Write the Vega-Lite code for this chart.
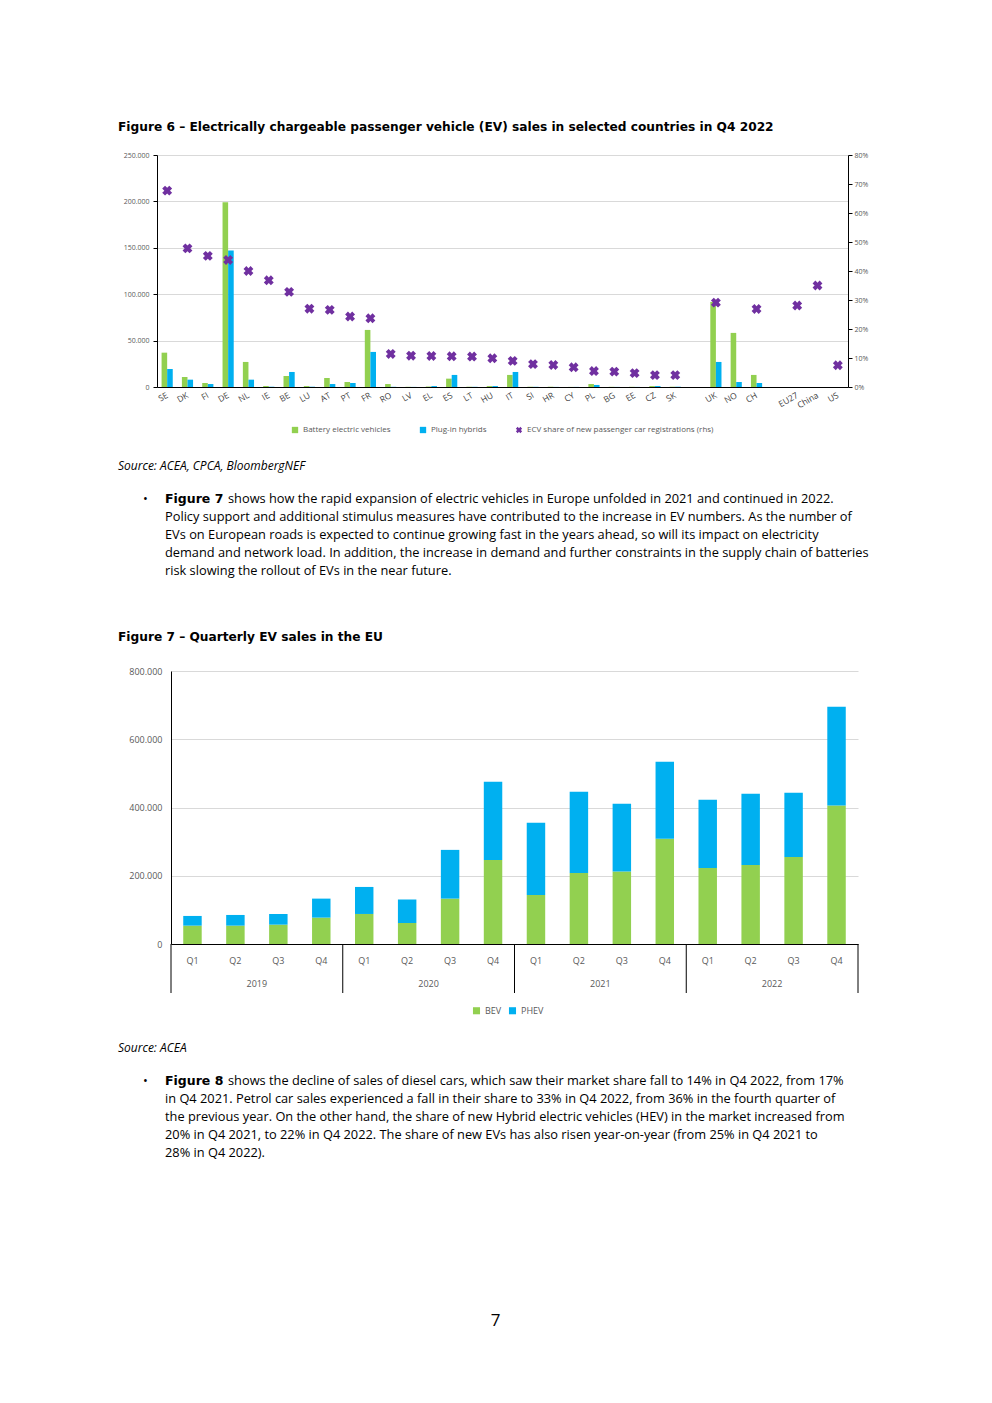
{
  "$schema": "https://vega.github.io/schema/vega-lite/v6.json",
  "background": "white",
  "padding": {"left": 118, "top": 120, "right": 0, "bottom": 0},
  "spacing": 26,
  "columns": 1,
  "resolve": {"scale": {"color": "independent"}, "legend": {"color": "independent"}},
  "config": {
    "locale": {"number": {"decimal": ",", "thousands": ".", "grouping": [3], "currency": ["", " €"]}},
    "view": {"stroke": null},
    "font": "Open Sans",
    "title": {"font": "DejaVu Sans", "fontSize": 12.2, "fontWeight": "bold", "anchor": "start", "color": "#000000"},
    "axis": {"labelFont": "Open Sans", "labelColor": "#595959", "titleFont": "Open Sans"},
    "legend": {"labelFont": "Open Sans", "labelColor": "#595959", "labelLimit": 400, "layout": {"bottom": {"anchor": "middle"}}},
    "text": {"font": "Open Sans", "color": "#000000"}
  },
  "datasets": {
    "fig6bars": [
      {"country": "SE", "type": "Battery electric vehicles", "value": 37000},
      {"country": "SE", "type": "Plug-in hybrids", "value": 19500},
      {"country": "DK", "type": "Battery electric vehicles", "value": 10800},
      {"country": "DK", "type": "Plug-in hybrids", "value": 7900},
      {"country": "FI", "type": "Battery electric vehicles", "value": 4300},
      {"country": "FI", "type": "Plug-in hybrids", "value": 3200},
      {"country": "DE", "type": "Battery electric vehicles", "value": 199000},
      {"country": "DE", "type": "Plug-in hybrids", "value": 147000},
      {"country": "NL", "type": "Battery electric vehicles", "value": 27000},
      {"country": "NL", "type": "Plug-in hybrids", "value": 7900},
      {"country": "IE", "type": "Battery electric vehicles", "value": 1100},
      {"country": "IE", "type": "Plug-in hybrids", "value": 300},
      {"country": "BE", "type": "Battery electric vehicles", "value": 11900},
      {"country": "BE", "type": "Plug-in hybrids", "value": 16200},
      {"country": "LU", "type": "Battery electric vehicles", "value": 1000},
      {"country": "LU", "type": "Plug-in hybrids", "value": 300},
      {"country": "AT", "type": "Battery electric vehicles", "value": 9700},
      {"country": "AT", "type": "Plug-in hybrids", "value": 3200},
      {"country": "PT", "type": "Battery electric vehicles", "value": 5400},
      {"country": "PT", "type": "Plug-in hybrids", "value": 4300},
      {"country": "FR", "type": "Battery electric vehicles", "value": 61500},
      {"country": "FR", "type": "Plug-in hybrids", "value": 37800},
      {"country": "RO", "type": "Battery electric vehicles", "value": 3200},
      {"country": "RO", "type": "Plug-in hybrids", "value": 200},
      {"country": "LV", "type": "Battery electric vehicles", "value": 200},
      {"country": "LV", "type": "Plug-in hybrids", "value": 100},
      {"country": "EL", "type": "Battery electric vehicles", "value": 500},
      {"country": "EL", "type": "Plug-in hybrids", "value": 1000},
      {"country": "ES", "type": "Battery electric vehicles", "value": 9000},
      {"country": "ES", "type": "Plug-in hybrids", "value": 13000},
      {"country": "LT", "type": "Battery electric vehicles", "value": 300},
      {"country": "LT", "type": "Plug-in hybrids", "value": 200},
      {"country": "HU", "type": "Battery electric vehicles", "value": 1000},
      {"country": "HU", "type": "Plug-in hybrids", "value": 1000},
      {"country": "IT", "type": "Battery electric vehicles", "value": 13000},
      {"country": "IT", "type": "Plug-in hybrids", "value": 16200},
      {"country": "SI", "type": "Battery electric vehicles", "value": 300},
      {"country": "SI", "type": "Plug-in hybrids", "value": 200},
      {"country": "HR", "type": "Battery electric vehicles", "value": 300},
      {"country": "HR", "type": "Plug-in hybrids", "value": 100},
      {"country": "CY", "type": "Battery electric vehicles", "value": 100},
      {"country": "CY", "type": "Plug-in hybrids", "value": 100},
      {"country": "PL", "type": "Battery electric vehicles", "value": 3200},
      {"country": "PL", "type": "Plug-in hybrids", "value": 2200},
      {"country": "BG", "type": "Battery electric vehicles", "value": 200},
      {"country": "BG", "type": "Plug-in hybrids", "value": 100},
      {"country": "EE", "type": "Battery electric vehicles", "value": 200},
      {"country": "EE", "type": "Plug-in hybrids", "value": 100},
      {"country": "CZ", "type": "Battery electric vehicles", "value": 1000},
      {"country": "CZ", "type": "Plug-in hybrids", "value": 1000},
      {"country": "SK", "type": "Battery electric vehicles", "value": 300},
      {"country": "SK", "type": "Plug-in hybrids", "value": 300},
      {"country": "UK", "type": "Battery electric vehicles", "value": 91700},
      {"country": "UK", "type": "Plug-in hybrids", "value": 27000},
      {"country": "NO", "type": "Battery electric vehicles", "value": 58300},
      {"country": "NO", "type": "Plug-in hybrids", "value": 5400},
      {"country": "CH", "type": "Battery electric vehicles", "value": 13000},
      {"country": "CH", "type": "Plug-in hybrids", "value": 4300}
    ],
    "fig6share": [
      {"country": "SE", "share": 0.677},
      {"country": "DK", "share": 0.478},
      {"country": "FI", "share": 0.452},
      {"country": "DE", "share": 0.438},
      {"country": "NL", "share": 0.400},
      {"country": "IE", "share": 0.368},
      {"country": "BE", "share": 0.328},
      {"country": "LU", "share": 0.270},
      {"country": "AT", "share": 0.266},
      {"country": "PT", "share": 0.243},
      {"country": "FR", "share": 0.237},
      {"country": "RO", "share": 0.114},
      {"country": "LV", "share": 0.108},
      {"country": "EL", "share": 0.107},
      {"country": "ES", "share": 0.106},
      {"country": "LT", "share": 0.105},
      {"country": "HU", "share": 0.099},
      {"country": "IT", "share": 0.090},
      {"country": "SI", "share": 0.079},
      {"country": "HR", "share": 0.076},
      {"country": "CY", "share": 0.068},
      {"country": "PL", "share": 0.055},
      {"country": "BG", "share": 0.053},
      {"country": "EE", "share": 0.048},
      {"country": "CZ", "share": 0.041},
      {"country": "SK", "share": 0.041},
      {"country": "UK", "share": 0.291},
      {"country": "CH", "share": 0.269},
      {"country": "EU27", "share": 0.281},
      {"country": "China", "share": 0.350},
      {"country": "US", "share": 0.075}
    ],
    "fig7": [
      {"period": "2019 Q1", "year": "2019", "quarter": "Q1", "type": "BEV", "value": 53800},
      {"period": "2019 Q1", "year": "2019", "quarter": "Q1", "type": "PHEV", "value": 28400},
      {"period": "2019 Q2", "year": "2019", "quarter": "Q2", "type": "BEV", "value": 53800},
      {"period": "2019 Q2", "year": "2019", "quarter": "Q2", "type": "PHEV", "value": 31300},
      {"period": "2019 Q3", "year": "2019", "quarter": "Q3", "type": "BEV", "value": 56700},
      {"period": "2019 Q3", "year": "2019", "quarter": "Q3", "type": "PHEV", "value": 31300},
      {"period": "2019 Q4", "year": "2019", "quarter": "Q4", "type": "BEV", "value": 77300},
      {"period": "2019 Q4", "year": "2019", "quarter": "Q4", "type": "PHEV", "value": 55700},
      {"period": "2020 Q1", "year": "2020", "quarter": "Q1", "type": "BEV", "value": 88000},
      {"period": "2020 Q1", "year": "2020", "quarter": "Q1", "type": "PHEV", "value": 79200},
      {"period": "2020 Q2", "year": "2020", "quarter": "Q2", "type": "BEV", "value": 61600},
      {"period": "2020 Q2", "year": "2020", "quarter": "Q2", "type": "PHEV", "value": 68500},
      {"period": "2020 Q3", "year": "2020", "quarter": "Q3", "type": "BEV", "value": 133000},
      {"period": "2020 Q3", "year": "2020", "quarter": "Q3", "type": "PHEV", "value": 142800},
      {"period": "2020 Q4", "year": "2020", "quarter": "Q4", "type": "BEV", "value": 246500},
      {"period": "2020 Q4", "year": "2020", "quarter": "Q4", "type": "PHEV", "value": 228800},
      {"period": "2021 Q1", "year": "2021", "quarter": "Q1", "type": "BEV", "value": 143800},
      {"period": "2021 Q1", "year": "2021", "quarter": "Q1", "type": "PHEV", "value": 211200},
      {"period": "2021 Q2", "year": "2021", "quarter": "Q2", "type": "BEV", "value": 208300},
      {"period": "2021 Q2", "year": "2021", "quarter": "Q2", "type": "PHEV", "value": 237700},
      {"period": "2021 Q3", "year": "2021", "quarter": "Q3", "type": "BEV", "value": 212200},
      {"period": "2021 Q3", "year": "2021", "quarter": "Q3", "type": "PHEV", "value": 198600},
      {"period": "2021 Q4", "year": "2021", "quarter": "Q4", "type": "BEV", "value": 308100},
      {"period": "2021 Q4", "year": "2021", "quarter": "Q4", "type": "PHEV", "value": 225900},
      {"period": "2022 Q1", "year": "2022", "quarter": "Q1", "type": "BEV", "value": 223000},
      {"period": "2022 Q1", "year": "2022", "quarter": "Q1", "type": "PHEV", "value": 199500},
      {"period": "2022 Q2", "year": "2022", "quarter": "Q2", "type": "BEV", "value": 231800},
      {"period": "2022 Q2", "year": "2022", "quarter": "Q2", "type": "PHEV", "value": 208300},
      {"period": "2022 Q3", "year": "2022", "quarter": "Q3", "type": "BEV", "value": 255300},
      {"period": "2022 Q3", "year": "2022", "quarter": "Q3", "type": "PHEV", "value": 187700},
      {"period": "2022 Q4", "year": "2022", "quarter": "Q4", "type": "BEV", "value": 405900},
      {"period": "2022 Q4", "year": "2022", "quarter": "Q4", "type": "PHEV", "value": 289500}
    ],
    "text1": [
      {"line": 1, "kind": "bullet", "text": "•"},
      {"line": 1, "kind": "lead", "text": "Figure 7"},
      {"line": 1, "kind": "first", "text": "shows how the rapid expansion of electric vehicles in Europe unfolded in 2021 and continued in 2022."},
      {"line": 2, "kind": "body", "text": "Policy support and additional stimulus measures have contributed to the increase in EV numbers. As the number of"},
      {"line": 3, "kind": "body", "text": "EVs on European roads is expected to continue growing fast in the years ahead, so will its impact on electricity"},
      {"line": 4, "kind": "body", "text": "demand and network load. In addition, the increase in demand and further constraints in the supply chain of batteries"},
      {"line": 5, "kind": "body", "text": "risk slowing the rollout of EVs in the near future."}
    ],
    "text2": [
      {"line": 1, "kind": "bullet", "text": "•"},
      {"line": 1, "kind": "lead", "text": "Figure 8"},
      {"line": 1, "kind": "first", "text": "shows the decline of sales of diesel cars, which saw their market share fall to 14% in Q4 2022, from 17%"},
      {"line": 2, "kind": "body", "text": "in Q4 2021. Petrol car sales experienced a fall in their share to 33% in Q4 2022, from 36% in the fourth quarter of"},
      {"line": 3, "kind": "body", "text": "the previous year. On the other hand, the share of new Hybrid electric vehicles (HEV) in the market increased from"},
      {"line": 4, "kind": "body", "text": "20% in Q4 2021, to 22% in Q4 2022. The share of new EVs has also risen year-on-year (from 25% in Q4 2021 to"},
      {"line": 5, "kind": "body", "text": "28% in Q4 2022)."}
    ]
  },
  "concat": [
    {
      "title": {"text": "Figure 6 – Electrically chargeable passenger vehicle (EV) sales in selected countries in Q4 2022", "offset": 18},
      "width": 691,
      "height": 232,
      "layer": [
        {
          "data": {"name": "fig6bars"},
          "mark": {"type": "bar"},
          "encoding": {
            "x": {
              "field": "country", "type": "nominal",
              "scale": {"domain": ["SE","DK","FI","DE","NL","IE","BE","LU","AT","PT","FR","RO","LV","EL","ES","LT","HU","IT","SI","HR","CY","PL","BG","EE","CZ","SK"," ","UK","NO","CH","  ","EU27","China","US"], "paddingInner": 0.45, "paddingOuter": 0.225},
              "axis": {"title": null, "labelAngle": -30, "labelAlign": "right", "labelBaseline": "middle", "labelFontSize": 8.5, "labelColor": "#404040", "ticks": false, "domainColor": "#000000", "labelPadding": 7}
            },
            "xOffset": {"field": "type", "type": "nominal", "scale": {"domain": ["Battery electric vehicles", "Plug-in hybrids"]}},
            "y": {
              "field": "value", "type": "quantitative",
              "scale": {"domain": [0, 250000]},
              "axis": {"title": null, "values": [0, 50000, 100000, 150000, 200000, 250000], "format": ",d", "labelFontSize": 7, "grid": true, "gridColor": "#D9D9D9", "domainColor": "#000000", "ticks": true, "tickColor": "#000000", "tickSize": 4, "labelPadding": 4, "minExtent": 39, "maxExtent": 39}
            },
            "color": {
              "field": "type", "type": "nominal",
              "scale": {"domain": ["Battery electric vehicles", "Plug-in hybrids", "ECV share of new passenger car registrations (rhs)"], "range": ["#92D050", "#00B0F0", "#7030A0"]},
              "legend": {
                "title": null, "orient": "bottom", "direction": "horizontal", "labelFontSize": 8, "symbolType": "square", "symbolSize": 40, "columnPadding": 28, "offset": 16,
                "encode": {"symbols": {"update": {"shape": {"signal": "datum.value === 'ECV share of new passenger car registrations (rhs)' ? 'cross' : 'square'"}, "angle": {"signal": "datum.value === 'ECV share of new passenger car registrations (rhs)' ? 45 : 0"}}}}
              }
            }
          }
        },
        {
          "data": {"name": "fig6share"},
          "mark": {"type": "point", "shape": "cross", "angle": 45, "filled": true, "size": 100, "opacity": 1},
          "encoding": {
            "x": {"field": "country", "type": "nominal"},
            "y": {
              "field": "share", "type": "quantitative",
              "scale": {"domain": [0, 0.8]},
              "axis": {"orient": "right", "title": null, "format": ".0%", "values": [0, 0.1, 0.2, 0.3, 0.4, 0.5, 0.6, 0.7, 0.8], "grid": false, "domainColor": "#000000", "tickColor": "#000000", "tickSize": 4, "labelFontSize": 7, "labelPadding": 2}
            },
            "color": {"datum": "ECV share of new passenger car registrations (rhs)"}
          }
        }
      ],
      "resolve": {"scale": {"y": "independent"}}
    },
    {
      "title": {"text": "Source: ACEA, CPCA, BloombergNEF", "font": "Open Sans", "fontStyle": "italic", "fontWeight": "normal", "fontSize": 12, "offset": 8, "frame": "group", "dx": -39},
      "width": 755,
      "height": 123,
      "data": {"name": "text1"},
      "encoding": {"y": {"field": "line", "type": "quantitative", "scale": {"domain": [0, 6.83], "reverse": true}, "axis": null}},
      "layer": [
        {"transform": [{"filter": "datum.kind === 'bullet'"}], "mark": {"type": "text", "align": "left", "baseline": "middle", "fontSize": 12.8, "x": -14}, "encoding": {"text": {"field": "text"}}},
        {"transform": [{"filter": "datum.kind === 'lead'"}], "mark": {"type": "text", "align": "left", "baseline": "middle", "fontSize": 12.5, "font": "DejaVu Sans", "fontWeight": "bold", "x": 8}, "encoding": {"text": {"field": "text"}}},
        {"transform": [{"filter": "datum.kind === 'first'"}], "mark": {"type": "text", "align": "left", "baseline": "middle", "fontSize": 12.8, "x": 71}, "encoding": {"text": {"field": "text"}}},
        {"transform": [{"filter": "datum.kind === 'body'"}], "mark": {"type": "text", "align": "left", "baseline": "middle", "fontSize": 12.8, "x": 8}, "encoding": {"text": {"field": "text"}}}
      ]
    },
    {
      "title": {"text": "Figure 7 – Quarterly EV sales in the EU", "offset": 24},
      "width": 701,
      "height": 273,
      "data": {"name": "fig7"},
      "layer": [
        {
          "mark": {"type": "bar", "width": {"band": 0.43}},
          "encoding": {
            "x": {
              "field": "period", "type": "nominal",
              "scale": {"paddingInner": 0, "paddingOuter": 0, "range": [14, 701]},
              "axis": {"title": null, "labelExpr": "substring(datum.value, 5)", "labelAngle": 0, "labelFontSize": 9, "domainColor": "#000000", "ticks": false, "labelPadding": 12}
            },
            "y": {
              "field": "value", "type": "quantitative", "stack": "zero",
              "scale": {"domain": [0, 800000]},
              "axis": {"title": null, "offset": -14, "values": [0, 100000, 200000, 300000, 400000, 500000, 600000, 700000, 800000], "format": ",d", "labelFontSize": 9, "labelOverlap": false, "grid": true, "gridColor": "#D9D9D9", "domainColor": "#000000", "ticks": false, "labelPadding": 9, "minExtent": 53, "maxExtent": 53}
            },
            "color": {
              "field": "type", "type": "nominal",
              "scale": {"domain": ["BEV", "PHEV"], "range": ["#92D050", "#00B0F0"]},
              "legend": {"title": null, "orient": "bottom", "direction": "horizontal", "labelFontSize": 9, "symbolType": "square", "symbolSize": 50, "columnPadding": 6, "offset": 41}
            },
            "order": {"field": "type", "sort": "ascending"}
          }
        },
        {
          "transform": [{"filter": "datum.type === 'BEV' && datum.quarter === 'Q2'"}],
          "mark": {"type": "text", "dy": 40, "fontSize": 9, "color": "#595959", "baseline": "middle", "align": "center"},
          "encoding": {
            "x": {"field": "period", "type": "nominal", "bandPosition": 1},
            "y": {"datum": 0, "axis": {"title": null, "offset": -14, "values": [0, 100000, 200000, 300000, 400000, 500000, 600000, 700000, 800000], "format": ",d", "labelFontSize": 9, "labelOverlap": false, "grid": true, "gridColor": "#D9D9D9", "domainColor": "#000000", "ticks": false, "labelPadding": 9, "minExtent": 53, "maxExtent": 53}},
            "text": {"field": "year"}
          }
        },
        {
          "transform": [{"filter": "datum.type === 'BEV' && datum.quarter === 'Q1'"}],
          "mark": {"type": "rule", "color": "#000000", "strokeWidth": 1},
          "encoding": {
            "x": {"field": "period", "type": "nominal", "bandPosition": 0},
            "y": {"datum": 0},
            "y2": {"datum": -143600}
          }
        },
        {
          "transform": [{"filter": "datum.type === 'BEV' && datum.period === '2022 Q4'"}],
          "mark": {"type": "rule", "color": "#000000", "strokeWidth": 1},
          "encoding": {
            "x": {"field": "period", "type": "nominal", "bandPosition": 1},
            "y": {"datum": 0},
            "y2": {"datum": -143600}
          }
        }
      ],
      "resolve": {"scale": {"color": "independent"}, "legend": {"color": "independent"}}
    },
    {
      "title": {"text": "Source: ACEA", "font": "Open Sans", "fontStyle": "italic", "fontWeight": "normal", "fontSize": 12, "offset": 8, "frame": "group", "dx": -39},
      "width": 755,
      "height": 222,
      "data": {"name": "text2"},
      "encoding": {"y": {"field": "line", "type": "quantitative", "scale": {"domain": [0, 12.33], "reverse": true}, "axis": null}},
      "layer": [
        {"transform": [{"filter": "datum.kind === 'bullet'"}], "mark": {"type": "text", "align": "left", "baseline": "middle", "fontSize": 12.8, "x": -14}, "encoding": {"text": {"field": "text"}}},
        {"transform": [{"filter": "datum.kind === 'lead'"}], "mark": {"type": "text", "align": "left", "baseline": "middle", "fontSize": 12.5, "font": "DejaVu Sans", "fontWeight": "bold", "x": 8}, "encoding": {"text": {"field": "text"}}},
        {"transform": [{"filter": "datum.kind === 'first'"}], "mark": {"type": "text", "align": "left", "baseline": "middle", "fontSize": 12.8, "x": 71}, "encoding": {"text": {"field": "text"}}},
        {"transform": [{"filter": "datum.kind === 'body'"}], "mark": {"type": "text", "align": "left", "baseline": "middle", "fontSize": 12.8, "x": 8}, "encoding": {"text": {"field": "text"}}}
      ]
    },
    {
      "width": 677,
      "height": 1,
      "data": {"values": [{"text": "7"}]},
      "mark": {"type": "text", "fontSize": 17, "align": "center", "baseline": "middle"},
      "encoding": {"text": {"field": "text"}}
    }
  ]
}
